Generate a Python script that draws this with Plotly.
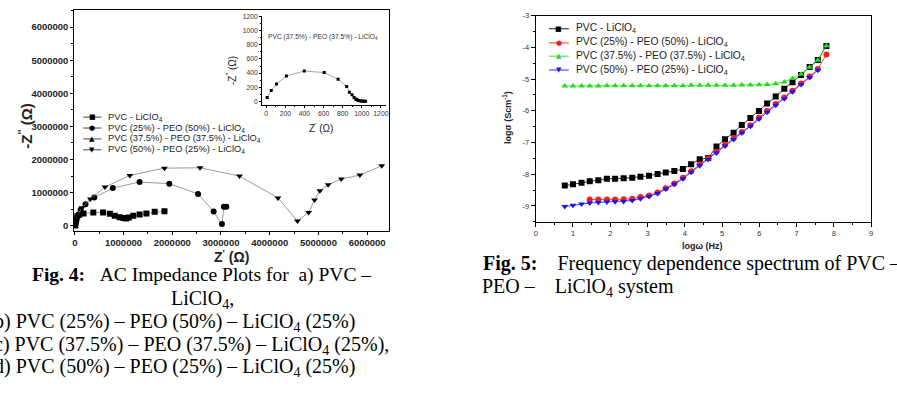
import plotly.graph_objects as go

# ---------------- Fig. 4 : AC impedance (Nyquist) data ----------------
nyq_names = ["PVC - LiClO<sub>4</sub>",
             "PVC (25%) - PEO (50%) - LiClO<sub>4</sub>",
             "PVC (37.5%) - PEO (37.5%) - LiClO<sub>4</sub>",
             "PVC (50%) - PEO (25%) - LiClO<sub>4</sub>"]

pvc_x = [5e3, 1e4, 1.5e4, 2e4, 3e4, 5e4, 9e4, 1.8e5, 3.8e5, 5.8e5, 7.2e5, 8.2e5, 9.2e5,
         1.0e6, 1.05e6, 1.11e6, 1.2e6, 1.33e6, 1.47e6, 1.64e6, 1.84e6]
pvc_y = [1e4, 5e4, 1e5, 1.6e5, 2.2e5, 2.8e5, 3.3e5, 3.7e5, 4.0e5, 4.0e5, 3.6e5, 3.0e5, 2.6e5,
         2.3e5, 2.2e5, 2.5e5, 3.0e5, 3.4e5, 3.7e5, 4.2e5, 4.4e5]

p25_x = [1e4, 3e4, 6e4, 1.2e5, 2.2e5, 4.0e5, 7.8e5, 1.33e6, 1.94e6, 2.53e6, 2.85e6, 3.02e6, 3.06e6, 3.11e6]
p25_y = [5e4, 1.5e5, 3.0e5, 4.8e5, 6.5e5, 8.5e5, 1.14e6, 1.32e6, 1.27e6, 9.6e5, 4.3e5, 5e4, 5.7e5, 5.7e5]

p375_x = [10, 52, 107, 211, 398, 607, 752, 842, 870, 898, 919, 935, 945, 955, 965, 980, 995, 1010, 1025, 1040]
p375_y = [56, 154, 247, 359, 429, 407, 313, 210, 130, 93, 56, 35, 25, 18, 12, 8, 5, 3, 2, 1]

p50_x = [1e4, 3e4, 6e4, 1.5e5, 3.2e5, 6.2e5, 1.13e6, 1.84e6, 2.57e6, 3.38e6, 4.17e6, 4.57e6,
         4.80e6, 4.92e6, 5.03e6, 5.20e6, 5.47e6, 5.85e6, 6.30e6]
p50_y = [6e4, 1.8e5, 3.3e5, 5.4e5, 8.1e5, 1.17e6, 1.52e6, 1.74e6, 1.75e6, 1.50e6, 8.4e5, 1.4e5,
         4.0e5, 7.8e5, 1.06e6, 1.24e6, 1.41e6, 1.53e6, 1.81e6]

nyq_ticks = [0, 1000000, 2000000, 3000000, 4000000, 5000000, 6000000]
nyq_ticklabels = ["0", "1000000", "2000000", "3000000", "4000000", "5000000", "6000000"]
inset_ticks = [0, 200, 400, 600, 800, 1000, 1200]
inset_ticklabels = ["0", "200", "400", "600", "800", "1000", "1200"]

# ---------------- Fig. 5 : frequency dependence data ----------------
logw = [0.78, 1.00, 1.23, 1.45, 1.68, 1.91, 2.13, 2.36, 2.59, 2.81, 3.04, 3.27, 3.49, 3.72, 3.95, 4.17,
        4.40, 4.63, 4.85, 5.08, 5.31, 5.53, 5.76, 5.99, 6.21, 6.44, 6.67, 6.89, 7.12, 7.35, 7.57, 7.80]

sig_pvc = [-8.36, -8.32, -8.27, -8.22, -8.19, -8.14, -8.14, -8.13, -8.11, -8.08, -8.05, -7.99, -7.95,
           -7.90, -7.84, -7.69, -7.53, -7.49, -7.13, -6.90, -6.69, -6.45, -6.23, -6.01, -5.77, -5.55,
           -5.31, -5.10, -4.87, -4.62, -4.40, -3.96]
sig_25 = [-8.80, -8.80, -8.80, -8.80, -8.79, -8.77, -8.72, -8.67, -8.58, -8.44, -8.29, -8.11, -7.91,
          -7.69, -7.50, -7.29, -7.07, -6.87, -6.67, -6.46, -6.22, -6.01, -5.79, -5.58, -5.37, -5.14,
          -4.92, -4.68, -4.23]
sig_375 = [-5.22, -5.22, -5.22, -5.22, -5.22, -5.21, -5.21, -5.21, -5.21, -5.21, -5.21, -5.21, -5.21,
           -5.21, -5.21, -5.20, -5.20, -5.20, -5.20, -5.20, -5.20, -5.19, -5.19, -5.18, -5.17, -5.15,
           -5.09, -4.98, -4.85, -4.63, -4.41, -3.95]
sig_50 = [-9.02, -8.98, -8.94, -8.91, -8.89, -8.88, -8.87, -8.86, -8.83, -8.77, -8.70, -8.61, -8.47,
          -8.32, -8.14, -7.94, -7.73, -7.54, -7.33, -7.11, -6.91, -6.70, -6.49, -6.26, -6.05, -5.83,
          -5.62, -5.40, -5.17, -4.95, -4.72]

fd_xticks = [0, 1, 2, 3, 4, 5, 6, 7, 8, 9]
fd_xticklabels = ["0", "1", "2", "3", "4", "5", "6", "7", "8", "9"]
fd_yticks = [-9, -8, -7, -6, -5, -4, -3]
fd_yticklabels = ["-9", "-8", "-7", "-6", "-5", "-4", "-3"]
fd_colors = ["#000000", "#ff1a1a", "#22dd22", "#1515ff"]
symbols = ["square", "circle", "triangle-up", "triangle-down"]
glyphs = ["\u25A0", "\u25CF", "\u25B2", "\u25BC"]

# ---------------- layout helpers ----------------
W, H = 897, 398
def px(x):
    return x / W
def py(y):
    return 1 - y / H

SANS = "Arial, Liberation Sans, sans-serif"
SERIF = "Times New Roman, Liberation Serif, serif"

fig = go.Figure()

# main Nyquist traces
nyq_series = [(pvc_x, pvc_y), (p25_x, p25_y), (p375_x, p375_y), (p50_x, p50_y)]
for (xs, ys), sym, nm in zip(nyq_series, symbols, nyq_names):
    fig.add_trace(go.Scatter(x=xs, y=ys, mode="lines+markers", name=nm, xaxis="x", yaxis="y",
                             line=dict(color="#808080", width=0.8),
                             marker=dict(symbol=sym, size=6, color="black"), showlegend=False))
# inset
fig.add_trace(go.Scatter(x=p375_x, y=p375_y, mode="lines+markers", xaxis="x2", yaxis="y2",
                         line=dict(color="#808080", width=0.7),
                         marker=dict(symbol="square", size=3, color="black"), showlegend=False))

# Fig 5 traces
fd_series = [(logw, sig_pvc), (logw[3:], sig_25), (logw, sig_375), (logw[:31], sig_50)]
for (xs, ys), sym, col, nm in zip(fd_series, symbols, fd_colors, nyq_names):
    fig.add_trace(go.Scatter(x=xs, y=ys, mode="lines+markers", name=nm, xaxis="x3", yaxis="y3",
                             line=dict(color=col, width=0.8),
                             marker=dict(symbol=sym, size=6, color=col), showlegend=False))

base = dict(showgrid=False, zeroline=False, showline=True, linecolor="black", linewidth=1,
            ticks="outside", tickcolor="black", tickmode="array")

fig.update_layout(
    width=W, height=H, margin=dict(l=0, r=0, t=0, b=0),
    paper_bgcolor="white", plot_bgcolor="white", showlegend=False,
    xaxis=dict(base, domain=[px(72.7), px(389)], range=[-0.01e6, 6.445e6], anchor="y", mirror=True,
               tickvals=nyq_ticks, ticktext=nyq_ticklabels, ticklen=3,
               minor=dict(ticks="outside", ticklen=2, dtick=5e5, tick0=0, tickcolor="black"),
               tickfont=dict(family=SANS, size=9.5, color="#222", weight="bold")),
    yaxis=dict(base, domain=[py(229), py(6)], range=[-0.15e6, 6.52e6], anchor="x", mirror=True,
               tickvals=nyq_ticks, ticktext=nyq_ticklabels, ticklen=3,
               minor=dict(ticks="outside", ticklen=2, dtick=5e5, tick0=0, tickcolor="black"),
               tickfont=dict(family=SANS, size=9.5, color="#222", weight="bold")),
    xaxis2=dict(base, domain=[px(261.7), px(386)], range=[-42, 1252], anchor="y2",
                tickvals=inset_ticks, ticktext=inset_ticklabels, ticklen=2,
                minor=dict(ticks="outside", ticklen=1.5, dtick=100, tick0=0, tickcolor="black"),
                tickfont=dict(family=SANS, size=6.8, color="#333")),
    yaxis2=dict(base, domain=[py(101.7), py(11.7)], range=[-47, 1214], anchor="x2",
                tickvals=inset_ticks, ticktext=inset_ticklabels, ticklen=2,
                minor=dict(ticks="outside", ticklen=1.5, dtick=100, tick0=0, tickcolor="black"),
                tickfont=dict(family=SANS, size=6.8, color="#333")),
    xaxis3=dict(base, domain=[px(536.7), px(874)], range=[0, 9], anchor="y3", mirror=True,
                tickvals=fd_xticks, ticktext=fd_xticklabels, ticklen=4,
                minor=dict(ticks="outside", ticklen=2, dtick=0.5, tick0=0, tickcolor="black"),
                tickfont=dict(family=SANS, size=7.5, color="#333")),
    yaxis3=dict(base, domain=[py(220), py(11.7)], range=[-9.5, -3], anchor="x3", mirror=True,
                tickvals=fd_yticks, ticktext=fd_yticklabels, ticklen=4,
                minor=dict(ticks="outside", ticklen=2, dtick=0.5, tick0=0, tickcolor="black"),
                tickfont=dict(family=SANS, size=7.5, color="#333")),
)

ann = []
def text(x, y, t, size, family=SANS, color="black", xanchor="center", yanchor="middle", angle=0, weight="normal"):
    ann.append(dict(x=px(x), y=py(y), xref="paper", yref="paper", text=t, showarrow=False,
                    xanchor=xanchor, yanchor=yanchor, textangle=angle,
                    font=dict(family=family, size=size, color=color, weight=weight)))

# axis titles
text(24, 123, "-Z<sup>''</sup> (Ω)", 15, angle=-90, weight="bold", color="#222")
text(231, 255, "Z<sup>'</sup> (Ω)", 14, weight="bold", color="#222")
text(231, 67, "-Z<sup>''</sup> (Ω)", 10, angle=-90, color="#222")
text(321, 125, "Z<sup>'</sup> (Ω)", 10, color="#222")
text(323, 33, nyq_names[2], 6.7, color="#333")
text(508, 115, "logσ (Scm<sup>-1</sup>)", 9, angle=-90, weight="bold", color="#222")
text(704, 244, "logω (Hz)", 9, weight="bold", color="#222")

shapes = []
# custom legends
def legend(rows_y, x0, x1, xt, fsize, gsize, colors, linecols):
    for i, yy in enumerate(rows_y):
        shapes.append(dict(type="line", xref="paper", yref="paper", x0=px(x0), x1=px(x1),
                           y0=py(yy), y1=py(yy), line=dict(color=linecols[i], width=0.9)))
        text((x0 + x1) / 2, yy, glyphs[i], gsize, family="DejaVu Sans", color=colors[i])
        text(xt, yy, nyq_names[i], fsize, xanchor="left", color="#222")

legend([114.3, 125.3, 136.3, 147.3], 81.7, 100, 104.3, 9.3, 7, ["black"] * 4, ["#333"] * 4)
legend([25, 39.3, 52.7, 66.7], 550, 570, 575, 10.3, 7, fd_colors, fd_colors)

# captions
NB = "\u00a0"
text(28, 274, "<b>Fig. 4:</b>" + NB * 3 + "AC Impedance Plots for" + NB + " a) PVC –", 19.5, family=SERIF, xanchor="left")
text(202, 298, "LiClO<sub>4</sub>,", 20, family=SERIF)
text(-10, 322, "b) PVC (25%) – PEO (50%) – LiClO<sub>4</sub> (25%)", 20, family=SERIF, xanchor="left")
text(-10, 345, "c) PVC (37.5%) – PEO (37.5%) – LiClO<sub>4</sub> (25%),", 20, family=SERIF, xanchor="left")
text(-10, 367, "d) PVC (50%) – PEO (25%) – LiClO<sub>4</sub> (25%)", 20, family=SERIF, xanchor="left")
text(482, 262, "<b>Fig. 5:</b>" + NB * 4 + "Frequency dependence spectrum of PVC –", 20, family=SERIF, xanchor="left")
text(481, 286, "PEO –" + NB * 4 + "LiClO<sub>4</sub> system", 20, family=SERIF, xanchor="left")

fig.update_layout(annotations=ann, shapes=shapes)
fig.write_html("out.html")
